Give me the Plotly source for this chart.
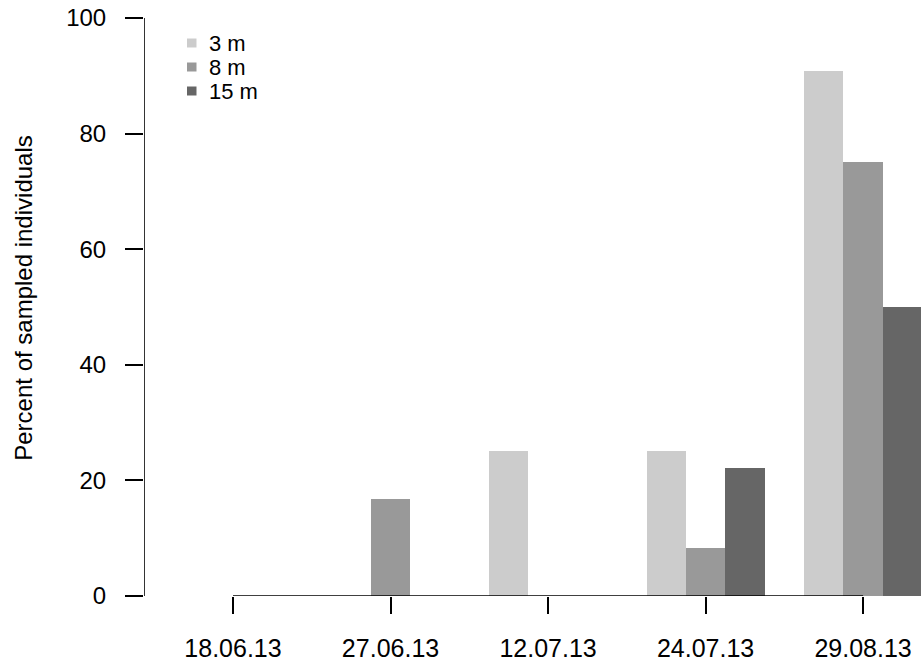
import plotly.graph_objects as go

# Sampling dates and depth classes
dates = ["18.06.13", "27.06.13", "12.07.13", "24.07.13", "29.08.13"]
depths = ["3 m", "8 m", "15 m"]

# Percent of sampled individuals per depth (one list per depth, ordered by date)
pct_3m = [0.0, 0.0, 25.0, 25.0, 90.9]
pct_8m = [0.0, 16.7, 0.0, 8.3, 75.0]
pct_15m = [0.0, 0.0, 0.0, 22.2, 50.0]

y_ticks = [0, 20, 40, 60, 80, 100]

series = [pct_3m, pct_8m, pct_15m]
fills = ["#cccccc", "#999999", "#666666"]

FONT = "Liberation Sans, Arial, Helvetica, sans-serif"
W, H = 921, 668
ML, MB = 144, 72

# grouped bars: each group is 3 unit-wide bars followed by a one-unit gap
n_series = len(series)
group_step = n_series + 1


def bar_pos(g, s):
    return group_step * g + 1.5 + s


fig = go.Figure()
for s, (name, vals, col) in enumerate(zip(depths, series, fills)):
    fig.add_trace(go.Bar(
        x=[bar_pos(g, s) for g in range(len(dates))],
        y=vals,
        width=1.0,
        name=name,
        marker=dict(color=col, line=dict(width=0)),
        showlegend=False,
    ))

centers = [bar_pos(g, 1) for g in range(len(dates))]

# axis lines spanning only the tick range
fig.add_shape(type="line", xref="x", yref="y",
              x0=centers[0], x1=centers[-1], y0=0, y1=0,
              line=dict(color="black", width=1.6), layer="above")
fig.add_shape(type="line", xref="x", yref="y",
              x0=0.24, x1=0.24, y0=y_ticks[0], y1=y_ticks[-1],
              line=dict(color="black", width=1.6), layer="above")


# compact legend in the upper left corner
def px_x(p):
    return (p - ML) / (W - ML)


def px_y(p):
    return (H - MB - p) / (H - MB)


for i, (name, col) in enumerate(zip(depths, fills)):
    cy = 43 + 24 * i
    fig.add_shape(type="rect", xref="paper", yref="paper",
                  x0=px_x(187), x1=px_x(196.5), y0=px_y(cy - 4.5), y1=px_y(cy + 4.5),
                  fillcolor=col, line=dict(width=0))
    fig.add_annotation(xref="paper", yref="paper", x=px_x(208), y=px_y(cy),
                       text=name, showarrow=False, xanchor="left", yanchor="middle",
                       height=22, borderpad=0,
                       font=dict(family=FONT, size=22, color="black"))

fig.update_layout(
    width=W, height=H,
    margin=dict(l=ML, r=0, t=0, b=MB, pad=0),
    paper_bgcolor="white", plot_bgcolor="white",
    barmode="overlay", bargap=0,
    font=dict(family=FONT, size=24, color="black"),
    xaxis=dict(
        range=[0.24, 19.97],
        tickmode="array", tickvals=centers, ticktext=dates,
        ticks="outside", ticklen=17, tickwidth=1.6, tickcolor="black",
        showgrid=False, zeroline=False, showline=False,
        tickfont=dict(family=FONT, size=25, color="black"),
        ticklabelstandoff=13,
    ),
    yaxis=dict(
        range=[0, 103.1],
        tickmode="array", tickvals=y_ticks,
        ticks="outside", ticklen=18, tickwidth=1.6, tickcolor="black",
        showgrid=False, zeroline=False, showline=False,
        tickfont=dict(family=FONT, size=24, color="black"),
        ticklabelstandoff=14,
        title=dict(text="Percent of sampled individuals", standoff=26,
                   font=dict(family=FONT, size=24, color="black")),
    ),
)

fig.write_html("out.html")
